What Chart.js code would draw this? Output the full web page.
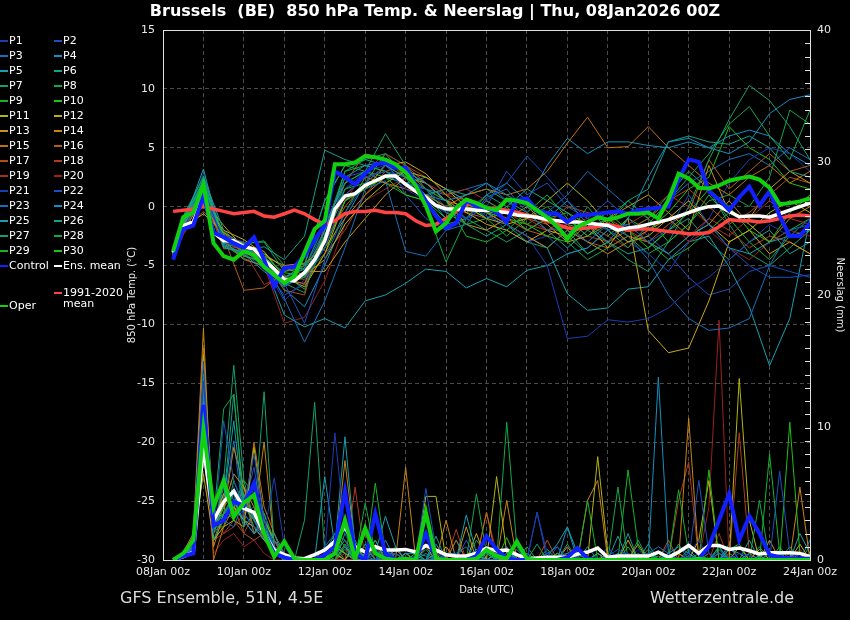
<!DOCTYPE html>
<html>
<head>
<meta charset="utf-8">
<title>Brussels 850 hPa Temp. & Neerslag</title>
<script src="https://cdn.jsdelivr.net/npm/chart.js@4.4.1/dist/chart.umd.min.js"></script>
<style>
  html, body { margin: 0; padding: 0; background: #000; }
  #wrap { width: 850px; height: 620px; position: relative; }
</style>
</head>
<body>
<div id="wrap"><canvas id="chart" width="850" height="620"></canvas></div>
<script>
// forecast hours (from 08Jan2026 00Z)
const hours6 = [6,12,18,24,30,36,42,48,54,60,66,72,78,84,90,96,102,108,114,120,126,132,138,144,150,156,162,168,174,180,186,192,
  198,204,210,216,222,228,234,240,246,252,258,264,270,276,282,288,294,300,306,312,318,324,330,336,342,348,354,360,366,372,378,384];
const hours12 = [6,12,24,36,48,60,72,84,96,108,120,132,144,156,168,180,192,204,216,228,240,252,264,276,288,300,312,324,336,348,360,372,384];
const dayLabels = ['08Jan 00z','10Jan 00z','12Jan 00z','14Jan 00z','16Jan 00z','18Jan 00z','20Jan 00z','22Jan 00z','24Jan 00z'];

// 850 hPa temperature (°C), 6-hourly
const tempOper = [-3.8,-0.9,-0.5,1.9,-3.1,-4.2,-4.5,-3.8,-4.1,-5.1,-5.8,-6.5,-5.9,-3.9,-1.9,-1.2,3.6,3.6,3.75,4.3,4.2,4.0,3.6,2.9,1.8,0.05,-2.1,-1.4,-0.1,0.6,0.3,-0.1,
  -0.3,0.6,0.5,0.3,-0.3,-0.9,-1.7,-2.7,-1.7,-1.3,-0.9,-1.1,-0.9,-0.6,-0.6,-0.5,-1.0,0.6,2.8,2.4,1.6,1.55,1.8,2.2,2.4,2.55,2.3,1.6,0.2,0.3,0.45,0.7];
const tempControl = [-4.5,-1.9,-1.6,0.9,-2.2,-2.6,-3.1,-3.5,-2.6,-4.5,-6.8,-5.2,-5.1,-4.2,-2.8,-1.6,3.0,2.5,1.9,2.8,3.6,3.75,3.3,3.3,1.9,0.5,-0.8,-1.8,-1.4,0.5,0.05,-0.1,
  -0.5,-1.3,0.55,0.7,-0.3,-0.55,-0.6,-1.3,-0.7,-0.7,-0.6,-0.5,-0.4,-0.6,-0.3,-0.2,-0.1,0.0,2.3,4.0,3.8,1.3,0.6,-0.3,0.8,1.7,0.1,1.3,-0.8,-2.5,-2.5,-1.4];
const tempMean = [-3.9,-1.6,-1.3,0.9,-2.2,-2.9,-2.9,-3.4,-3.6,-4.5,-5.3,-6.2,-6.3,-5.6,-4.5,-2.9,-0.2,0.9,1.1,1.8,2.2,2.6,2.6,1.9,1.3,0.8,0.1,-0.2,-0.2,-0.2,-0.3,-0.3,
  -0.4,-0.5,-0.7,-0.8,-0.9,-1.1,-1.2,-1.3,-1.3,-1.4,-1.5,-1.6,-2.0,-1.8,-1.7,-1.5,-1.3,-1.1,-0.8,-0.5,-0.2,0.0,0.05,-0.4,-0.85,-0.8,-0.8,-0.9,-0.6,-0.3,0.0,0.3];
const tempClimate = [-0.4,-0.3,-0.2,0.0,-0.2,-0.4,-0.6,-0.5,-0.4,-0.8,-0.9,-0.6,-0.3,-0.6,-1.1,-1.5,-1.2,-0.6,-0.4,-0.4,-0.3,-0.5,-0.5,-0.6,-1.2,-1.6,-1.5,-1.0,-0.4,0.2,0.1,-0.1,
  -0.2,-0.3,-0.5,-0.7,-0.9,-1.2,-1.5,-1.8,-1.9,-1.8,-1.7,-1.5,-1.7,-2.0,-1.9,-1.9,-2.0,-2.1,-2.2,-2.3,-2.3,-2.2,-1.7,-1.1,-1.2,-1.2,-1.3,-1.2,-1.0,-0.8,-0.7,-0.8];

// precipitation (mm / 6h)
const precOper = [0,0.5,1.5,9.9,4.0,6.0,3.3,4.3,4.9,2.0,0.25,1.4,0.1,0,0,0,0.5,3.0,0.1,2.4,0.5,0.1,0,0.1,0,3.6,0.1,0,0,0,0.1,0.75,
  0.3,0.1,1.4,0.1,0,0,0,0,0,0,0,0,0,0,0,0,0,0,0,0,0.1,0,0,0,0,0,0,0,0,0,0,0];
const precControl = [0,0.3,0.5,11.7,2.6,3.0,4.4,4.1,5.8,2.0,0.5,0.2,0,0,0,0.4,1.0,5.2,0.5,0,3.5,0.5,0,0,0.1,2.0,0.1,0,0,0,0.3,1.8,
  0.8,0.1,0,0,0,0,0,0.2,0.9,0.1,0,0,0,0,0,0,0,0,0,0,0.1,1.0,3.0,5.0,1.5,3.3,2.0,0.4,0.2,0.1,0.1,0.1];
const precMean = [0,0.25,0.6,8.5,3.0,4.4,5.2,3.9,3.6,2.0,0.75,0.4,0.15,0.1,0.4,0.75,1.4,2.5,1.0,0.6,1.0,0.75,0.75,0.8,0.6,1.1,0.75,0.4,0.3,0.3,0.5,0.9,
  0.7,0.75,0.4,0.1,0.15,0.2,0.2,0.2,0.45,0.6,0.9,0.2,0.3,0.3,0.3,0.3,0.6,0.2,0.6,1.1,0.5,1.1,1.1,0.8,0.9,0.7,0.45,0.55,0.55,0.55,0.5,0.25];

// perturbation members P1..P30, temperature (°C) on hours12
const pertTemp = [
  [-4.2,-1.9,1.5,-3.0,-3.6,-5.0,-8.0,-6.2,-3.5,1.0,2.5,3.0,1.5,0.5,-0.5,0.5,-0.8,-1.5,-2.5,-5.0,-11.2,-11.0,-9.6,-9.8,-9.5,-8.6,-7.0,-6.0,-4.5,-3.0,-1.5,-2.5,-1.0],
  [-4.4,-1.0,0.5,-2.5,-3.0,-4.4,-6.5,-9.9,-4.5,-0.5,2.0,3.5,2.0,1.5,0.0,-1.0,0.5,2.0,4.3,2.5,0.5,-1.0,-2.0,-1.5,-3.0,-2.0,1.0,-1.5,-3.5,-5.0,-6.0,-6.0,-5.8],
  [-4.0,-2.0,1.0,-2.8,-3.3,-4.6,-7.8,-11.5,-8.0,-3.5,1.5,2.2,-3.8,-4.2,-2.0,-1.5,0.8,1.5,-0.5,-2.0,-1.8,-3.0,-1.5,-2.5,-4.5,-7.5,-9.5,-10.5,-10.3,-9.5,-5.0,-2.0,-1.5],
  [-3.8,-1.2,2.0,-3.2,-4.0,-5.5,-6.8,-5.8,-2.0,2.5,3.5,3.8,3.0,2.0,0.5,1.0,2.0,1.0,0.0,-1.0,0.5,-1.5,-3.0,-1.0,2.5,5.5,5.8,5.0,4.5,5.5,7.9,9.1,9.5],
  [-4.1,-1.5,3.2,-3.5,-3.8,-4.8,-9.2,-10.2,-9.5,-10.3,-8.0,-7.5,-6.5,-5.3,-5.5,-6.9,-6.1,-6.8,-5.4,-5.0,-4.0,-3.5,-2.0,-1.5,-3.0,-4.0,-2.5,-1.5,-3.5,-4.0,-3.0,-2.5,-2.0],
  [-3.9,-0.8,2.5,-2.0,-3.6,-5.2,-6.0,-5.0,0.5,3.5,4.0,3.5,2.5,1.0,1.5,0.5,-1.0,0.0,1.5,0.5,-0.5,-2.0,-1.0,0.5,1.5,5.5,6.0,5.5,5.3,6.0,5.0,3.0,2.5],
  [-4.3,-1.7,1.8,-3.4,-3.1,-3.0,-5.5,-5.2,-1.5,2.0,3.0,6.2,3.5,1.5,-0.5,-1.5,-2.5,-1.5,-3.0,-3.5,-2.0,-4.0,-3.0,-4.5,-5.5,-3.0,0.0,4.0,7.4,10.3,9.0,6.8,4.0],
  [-4.0,-1.4,1.2,-2.6,-3.7,-4.0,-5.8,-7.0,-3.0,1.5,2.0,4.5,2.5,0.0,-4.7,-1.0,0.5,-0.5,-2.0,-1.0,-2.5,0.0,-2.0,-3.5,-1.5,0.5,2.5,4.5,7.0,8.5,6.0,4.0,8.2],
  [-3.7,-1.1,2.2,-3.0,-4.2,-4.7,-6.4,-6.0,-2.5,3.0,3.5,3.0,2.0,1.5,0.5,-2.5,-3.0,-2.0,-0.5,1.0,-1.0,-2.5,-1.5,0.5,-1.0,-3.0,-1.5,1.0,-1.0,-3.0,-4.5,-2.5,-1.0],
  [-4.1,-0.9,1.9,-2.4,-3.9,-4.3,-5.6,-5.9,-3.5,0.5,1.5,2.5,1.0,0.5,-1.0,0.0,-0.5,-1.0,-1.5,-2.5,-3.0,-1.5,-0.5,-2.0,-3.5,-2.0,-0.5,1.5,0.0,-2.0,-3.0,-0.5,1.0],
  [-4.0,-1.3,0.2,-2.0,-2.8,-4.0,-5.2,-5.8,-4.5,-1.5,0.5,2.0,3.0,2.5,1.5,0.0,-1.0,-1.5,-1.0,0.5,2.0,0.5,-1.5,-3.0,-2.5,-1.0,0.5,-1.5,-3.0,-2.0,-0.5,0.5,-0.5],
  [-3.9,-1.8,-0.6,-2.2,-3.2,-3.8,-6.0,-6.8,-4.0,0.5,1.5,3.5,3.8,2.8,1.0,-0.5,-1.5,-2.0,-3.0,-2.0,-2.5,-1.5,-3.5,-1.0,-10.5,-12.4,-12.0,-8.0,-3.0,-2.0,-4.0,-3.0,-4.0],
  [-4.2,-1.5,0.6,-1.6,-3.5,-4.9,-6.6,-5.5,-5.5,-3.0,-1.0,1.0,2.5,2.0,0.5,-1.5,-2.0,-1.0,0.0,-1.5,-3.0,-2.5,-1.0,0.0,1.0,-0.5,-2.0,3.5,-0.5,-1.0,1.5,3.0,2.0],
  [-4.0,-2.2,0.8,-3.0,-3.0,-4.2,-5.0,-4.8,-3.5,-1.0,1.0,2.5,3.0,2.0,0.5,0.0,-0.5,-1.5,-2.5,-3.5,-2.0,-3.0,-4.0,-3.0,-2.0,-1.0,-2.5,-1.5,0.5,-1.5,-3.0,-1.0,0.0],
  [-4.4,-1.6,0.4,-2.8,-4.5,-5.0,-6.3,-6.5,-2.5,1.0,2.5,2.0,1.5,1.0,0.0,1.0,1.5,1.0,1.5,3.0,5.4,7.6,5.0,5.1,6.8,5.0,3.5,2.0,1.0,2.5,3.5,2.0,3.0],
  [-3.8,-1.2,1.4,-2.6,-7.1,-6.9,-5.5,-5.0,-3.0,0.0,2.0,3.5,3.0,1.5,0.5,-0.5,0.0,-1.0,-2.0,-2.5,-1.5,-3.0,-3.5,-2.5,-3.0,-1.5,-0.5,4.0,1.5,3.0,4.5,3.0,3.5],
  [-4.1,-2.0,-0.4,-2.1,-4.2,-4.6,-7.1,-7.5,-1.5,2.0,4.5,4.0,2.5,1.0,0.0,-0.5,-1.0,-0.5,-1.0,-1.5,0.0,-0.5,-1.0,-2.0,-1.0,0.5,1.5,0.0,-1.5,-0.5,1.0,2.5,2.0],
  [-4.0,-1.7,1.0,-3.6,-3.4,-4.4,-6.0,-6.6,-4.0,-2.0,1.0,3.0,3.5,2.5,1.5,0.5,0.0,-0.5,-1.5,-2.0,-1.0,-2.5,-3.0,-2.0,-3.0,-4.0,-2.5,-1.0,-2.0,-3.5,-2.5,-3.0,-4.0],
  [-4.3,-2.4,0.3,-3.0,-3.8,-6.6,-5.9,-6.2,-3.0,0.5,3.0,4.5,3.5,2.0,1.0,1.5,0.5,-0.5,-1.0,-2.0,-1.5,-1.0,-2.0,-1.5,-0.5,1.0,0.0,-1.5,-2.5,-1.0,0.5,-1.0,-1.5],
  [-4.2,-1.5,0.7,-2.7,-3.5,-5.0,-9.9,-9.4,-6.3,-1.5,0.5,1.5,2.5,2.0,1.0,0.5,-0.5,-1.0,-2.0,-1.0,-2.0,-1.5,-2.5,-3.5,-2.0,-1.0,-3.0,-2.0,-3.5,-4.5,-3.0,-2.0,-2.5],
  [-4.0,-1.6,2.8,-2.5,-3.3,-4.5,-6.8,-5.4,-1.0,1.5,3.0,3.5,2.0,1.0,-0.5,-1.0,-0.5,-2.0,-3.0,-2.5,-4.0,-3.5,-2.0,-3.0,-4.0,-5.5,-3.0,-1.0,2.0,4.0,5.0,4.5,3.0],
  [-4.5,-2.2,0.9,-3.3,-3.9,-5.3,-7.5,-6.6,-3.0,2.5,3.0,4.0,1.0,-1.0,-2.0,-1.0,0.0,3.0,1.0,2.0,0.0,-1.0,0.5,-1.0,-2.5,-4.0,-6.0,-7.5,-7.0,-5.5,-5.0,-5.5,-6.0],
  [-3.9,-1.3,1.6,-2.9,-3.0,-4.2,-6.1,-5.2,-2.0,1.5,2.5,3.0,2.5,1.5,1.0,1.5,2.0,0.5,-1.0,-0.5,1.0,3.0,1.5,0.0,-1.0,0.5,2.0,3.0,4.0,4.5,3.5,5.0,4.0],
  [-4.1,-1.8,2.4,-3.1,-3.6,-4.9,-7.0,-8.5,-5.0,-1.0,2.0,3.5,2.5,1.0,0.5,-0.5,1.0,2.0,0.5,3.5,5.8,4.5,5.5,5.5,5.2,5.0,5.5,5.0,6.0,6.5,6.0,4.5,3.5],
  [-4.0,-1.0,1.7,-2.3,-3.4,-4.5,-6.6,-6.0,-3.5,0.5,2.0,2.5,2.0,1.0,-1.0,0.5,-0.5,-1.5,-2.5,-3.5,-7.4,-8.8,-8.6,-7.0,-6.8,-4.5,-3.0,-2.5,-5.1,-8.5,-13.5,-9.5,-1.0],
  [-3.8,-1.6,1.3,-2.9,-3.8,-3.4,-4.5,-2.5,4.8,4.0,3.5,3.0,2.0,2.5,1.5,1.0,1.5,0.5,-0.5,-2.0,-3.5,-2.0,-3.0,-4.0,-3.5,-2.0,-1.0,-3.0,-4.5,-3.0,-2.0,-4.0,-3.0],
  [-4.2,-1.2,2.0,-3.2,-4.4,-5.1,-6.5,-7.3,-2.0,3.0,4.0,4.5,3.5,2.0,0.5,-1.0,-2.0,-3.0,-2.0,-1.0,-2.5,-4.0,-3.0,-2.0,-1.0,1.0,3.0,1.5,-1.5,-4.0,-5.0,-3.5,-2.0],
  [-4.0,-1.9,1.1,-2.6,-3.2,-2.9,-5.0,-4.9,0.5,3.5,3.0,2.0,1.0,0.5,-1.5,-1.0,1.0,0.0,-1.5,-0.5,-3.0,-4.5,-3.5,-2.5,-4.0,-3.0,-1.5,0.5,1.0,0.0,2.5,8.2,7.0],
  [-3.9,-1.4,1.5,-3.4,-4.1,-4.8,-6.3,-5.7,-4.0,-0.5,2.5,3.0,2.0,1.0,0.0,-1.5,-1.0,-2.5,-1.0,0.0,-1.5,-2.0,-1.0,-2.5,-3.0,-4.5,-3.5,-2.0,-0.5,-1.5,-3.0,-2.0,-1.0],
  [-4.1,-1.1,2.6,-2.8,-3.7,-4.4,-6.0,-5.3,-2.5,2.0,3.0,2.5,2.0,0.5,-0.5,0.0,-1.0,-0.5,-2.0,-1.0,-0.5,-1.5,-2.5,-1.0,-2.0,-0.5,1.5,2.5,6.8,5.0,4.0,2.0,1.5]
];

// perturbation members P1..P30, precipitation (mm / 6h) on hours6
const pertPrec = [
  [0,0.5,1.2,13.5,3.0,4.5,5.0,3.5, 2.5,2.0,6.2,1.0,0,0,0,0.5, 9.6,2.0,0.5,0,0.5,0.3,0,0, 0.2,1.0,0.5,0,0,0.3,0.5,1.0, 0.5,0.3,0,0,3.6,0.5,0,0, 0.2,0,0,0,0,0.5,0,0, 0,0,0,0.5,1.5,0,0,0, 0.5,0.3,0,0,0,0.5,0.3,0],
  [0,0.3,0.8,15.0,2.0,10.5,6.0,4.0, 8.0,3.0,1.0,0.5,0,0,0,0, 0.5,1.0,1.0,0,0,0,0.5,0, 0,5.4,0.8,0,0,0,0,0, 0,0.5,0,0,0,0,0,0, 0,0,0,0.3,0.8,0.3,0,0, 0,0,0,0,6.0,0.5,0,0.3, 0,0,0,0,6.7,0.5,0,0],
  [0,0.2,1.0,11.0,3.5,3.0,2.5,4.5, 3.0,2.0,1.5,0.5,0,0,0,1.0, 2.0,1.5,0,0,0,0.5,0.5,0, 0,0,0,0.5,0.5,1.0,0,0.5, 0.3,0,0.5,0,0,0.5,1.0,0, 0,0,0,0,0,0,0.3,0.5, 1.0,0.5,0,0.3,0,0,0.5,0, 0,0,0,0,0,0.3,0,0],
  [0,0.5,1.5,12.5,4.0,6.0,4.5,3.0, 2.0,2.5,1.0,0,0,0,0,0, 1.0,2.5,0.5,0.3,0,0.3,0,0.5, 0.5,0.3,0,0,0,0,0.3,0, 0,0.8,0,0,0,0,0.3,0.5, 0,0,0,0,0.3,0,0,0, 13.8,0.5,0,0.5,0,0,0.5,0, 0,0,0,0,0,0,0,0.5],
  [0,0.4,1.0,9.5,2.5,4.5,10.5,3.5, 2.5,1.5,2.0,0.5,0,0,0,6.3, 1.0,9.3,1.0,0,0.5,3.3,1.0,0, 0,0.5,0,0,0,3.4,0.5,0, 0.5,0,0,0.5,0,0.3,1.2,2.5, 0.5,0,0,0,0.5,0,0.5,0, 0,0.5,1.0,0.5,0,0,0,0.8, 0.5,0,0.3,0,0,0,0,0],
  [0,0.3,0.6,10.0,1.5,3.5,5.0,2.5, 3.5,2.0,0.5,0,0,0,0,0.5, 2.0,1.0,0,0.5,1.5,0,0,0, 0.3,0,1.8,0,0,0,0,0.5, 0,1.0,0,0,0,0.5,0,1.2, 0,0,0.5,0,0,2.0,0,0, 0,0,0,0,0.5,0,1.0,0, 0,1.5,0,0.5,0,0,0,0],
  [0,0.5,1.0,14.0,2.0,6.0,14.7,6.0, 3.0,12.7,1.0,0,0,3.0,11.9,0.5, 0,2.0,0.5,1.0,0,0,0,0, 0,0,0,0,0,0,0,0, 0,0.5,0,0,0,0,0,0, 0,0,0,0,0,0,0,0, 0.3,0,0,0,0,0,0,0, 0,0,0,0,0,1.0,0,0],
  [0,0.3,0.8,12.0,3.0,11.4,12.5,4.0, 3.5,2.5,0.5,0,0,0,0,0.5, 1.5,0.5,0,4.3,0.5,0,0,0.5, 0,0,0,0,0,0,5.0,0.5, 0,10.4,1.0,0,0,0,0.5,0, 0,0,0,0,5.5,0,0,0, 0,0,0,0,0,0,0,0, 0,0,4.5,0,0,0,0,0],
  [0,0.5,1.5,8.0,2.5,3.5,4.0,6.0, 5.0,3.5,1.5,0.5,0,0,0,0, 0.5,1.5,0.5,0,5.8,0.5,0,0, 0.5,0,0,0,0,0,0,0, 0,0,0,0,0,0,0.3,0, 0,4.5,0,0,0,6.8,1.0,0, 0.5,0,5.3,0.5,0,0,0,0, 0,0,0,8.0,0.5,0,0,0],
  [0,0.3,1.0,10.5,2.0,4.0,3.0,4.5, 3.0,2.5,0.5,0,0,0,0,0, 0,1.0,0,0,1.5,0,0,0, 0,0,0,0,0,0,0,0, 0,1.7,0,0,0,0,0.5,0, 0,0,0,0,0,0,0,0, 0,0,0,0,0,6.8,0,0, 0,0,0,0,0,10.4,0.5,0],
  [0,0.5,1.5,6.5,1.5,2.5,3.0,2.5, 8.5,3.0,1.5,0.5,0,0,0,0.5, 1.0,0.5,0,0,0,0,0.5,0, 0,4.8,4.8,0,0,0,0,0, 6.3,0.5,0,0,0,0,0,0, 0,0,7.8,0.5,0,0,0,0, 0,0,0,0,0,0,0,0, 13.7,3.0,0,0,0,0,0.5,0],
  [0,0.3,1.0,15.5,3.0,5.0,4.0,3.0, 2.5,1.5,1.0,0,0,0,0,1.0, 0.5,0,1.2,0,0,0,0,0.5, 0,0,0,1.0,0,0,2.0,0, 0,0,0,0,0,0,0.5,0, 0,0,0.5,0,0,1.5,0,0, 0,0,0,0,1.5,6.0,0,0, 0,0,0.8,0,0,0,1.2,0],
  [0,0.5,1.8,12.0,2.5,4.0,6.5,5.5, 4.0,2.0,0.5,0.5,0,0,0,0, 1.5,2.5,0.5,0,0,0,0,0, 0,1.0,0,0,0,2.5,0,0, 0.5,0,0,0,0,0,0,1.0, 0,0,0,0.5,0,0,1.2,0, 0,0,0.5,0,0,0,0,0, 1.0,0,0,1.5,0,0,0,0],
  [0,0.6,2.0,17.5,1.0,3.5,8.5,5.5, 3.0,8.9,1.0,0.5,0,0,0,0, 0.5,7.5,1.0,0,0,0,0,7.0, 0,0,0,3.0,0,0,0,0, 0,4.5,0,0,0,0,0,0, 0,4.5,6.0,0,0,0,0,0, 0,0,0,10.7,0,0,0,0, 0,0,0,0,0,0,5.5,0],
  [0,0.4,1.2,16.0,0,2.5,4.0,3.0, 8.9,4.0,2.0,0,0,0,0,0.5, 1.5,0.5,0,0,0,0,0,0, 0,0,0,0,0,0,0,3.6, 0,0,0,0,0,0,0,0, 0,0,0,0,0,0,0,0.5, 0,0,0,0,0,0,0,0, 0,0,0,0,0,0,0,0],
  [0,0.3,0.8,13.0,2.5,5.0,3.5,5.5, 2.0,3.0,1.5,0,0,0,0,0, 0.5,1.0,0,0,0,0,0.8,0, 0,0,0.5,0,1.5,0,0,0, 0,0,0,0,0,0,0,0.5, 1.0,0,0,0,0,0,0,0, 0,1.5,0,0,0,0.5,0,0, 0,0,0,0,0,0.5,0,0],
  [0,0.5,1.0,11.5,2.0,3.0,4.0,2.0, 1.5,2.0,1.0,0,0,0,0,0, 0,0.5,0,2.0,0,0,0,0.5, 0,0,0,0,0,0,0.5,0, 0,0.5,0,0,0,1.5,0,0, 0,0,0,0,0,0.5,0,0, 0,0,0.5,0,0,0,0,0, 0,0,0,0,0,0,0,0.5],
  [0,0.2,0.5,9.0,3.5,2.0,3.0,2.0, 3.5,1.5,0.5,0.5,0,0,0,0, 0,0,5.5,0,0,0,0,0, 0,0,0,0,2.3,0,0,0, 0,0,0,0,0,0,0,0, 0,0,0,0,0,0,0,0, 0,0,4.5,7.4,0,0,0,0, 9.6,0.5,0,0,0,0,0,0],
  [0,0.3,1.0,10.0,1.5,2.0,2.5,3.5, 2.5,2.0,0.5,0,0,0,0,0, 0,0,0,0,1.2,0,0.5,0, 0,0,0,0,0,0,0,3.6, 0.5,0,0,0,0,0,0,0, 0,0,0,0.5,0,0,0,0, 0,0,0,0,0,0,2.0,0, 0,0,0,0,0,0,0.8,0],
  [0,0.2,0.6,8.5,0.5,1.5,2.0,1.0, 1.5,0.5,0,0,0,0,0,0, 0,0,0,0,0,0,0,0, 0,0,0,0,0.3,0,0,0, 0,0,0,0,0,0,0,0, 0,0,0,0,0,0,0,0, 0,0,0,0,0,4.0,18.1,0, 0,0,0,0,0,0,0,0],
  [0,0.4,1.2,12.5,3.5,3.0,4.0,3.5, 4.0,3.0,1.5,0,0,0,0,0, 0.5,0,0,0,0,1.0,0,0, 0,0,0,0.5,0,0,0,0, 0,0,0,0,0,0,1.0,0, 0,0,0,0,0,0,0.8,0, 0,1.2,0,0,0,0,0,0, 0,0,0,0,0.5,0,0,0],
  [0,0.3,0.9,14.0,2.0,6.5,5.5,4.0, 7.0,2.5,1.0,0,0,0,0,0.5, 0,0,0.8,0,0,0,0,0, 0,0,0,0,0,1.5,0,0, 0,0,0,0,3.6,0,0,0, 0,0,0,1.0,0,0,0,0, 0,0,0,0,0,0,0,1.0, 0,0,0,0,0,0,0,0],
  [0,0.5,1.0,11.0,2.5,4.0,9.0,3.0, 2.5,2.0,0.5,0,0,0,0,0, 0,0,0,0,0.8,0,0,0, 0,0,0.5,0,0,0,0,0, 0,0,0,0,0,0,0,0, 0,0,0,0,0,0,0,0, 0.5,0,0,0,0,0,1.0,0, 0,0,0,0,0,0,0,0],
  [0,0.5,1.5,13.0,2.5,5.5,4.0,3.0, 2.0,3.5,1.0,0.5,0,0,0,0, 0,0.8,0,0,0,1.5,0,0, 0,0,1.2,0,0,0,0.5,0, 0,0,0,0,0,0,0,2.5, 0,1.0,0,0,0,0.5,0,0, 0,0,0,0.8,0,0,0,1.2, 0,0.5,0,0,0.5,0,0,1.5],
  [0,0.3,0.8,9.0,3.0,3.5,4.5,5.0, 3.0,1.5,0.5,0,0,0,0,0, 0.5,0,0,1.2,0,0,0,0.5, 0,0,0,0,1.5,0,0,0, 0,0,0.8,0,0,0,0,0, 0,0,0,0,1.8,0,0,0, 0,0.5,0,0,0,0,0.8,0, 0,0,0,0,0,0,2.0,0.5],
  [0,0.4,1.0,10.5,2.0,4.5,12.5,4.5, 3.0,2.5,1.0,0,0,0,0,0.5, 1.0,0.5,0,0,1.0,0,0,0, 0,0,0,0,0,0,0.8,0, 0.5,0,0,0,0,0,0,0, 0,0,0,0,0,0,0,1.2, 0,0,0,0,0,0,0.5,0, 0,0,1.0,0,0,0,0,0],
  [0,0.5,1.2,11.5,3.0,4.0,5.0,4.0, 3.0,2.0,1.0,0,0,0,0,0, 0,0,1.5,0,0,0,1.0,0, 0,0.8,0,0,0,0,0,0, 0,0,0,0,1.2,0,0,0, 0.5,0,0,0,0,0,1.5,0, 0,0,0,0,0,0,0,0.5, 0,0,0,0,0,0,0,0],
  [0,0.3,0.7,12.0,1.5,3.0,3.5,5.0, 2.0,3.0,0.5,0,0,0,0,0, 0,0,0,0,0,0.8,0,0, 0,0,0,0,0,0,1.5,0.5, 0,0,0,1.0,0,0,0,0, 0,0,0,0,0,0,0,0.8, 0,0,1.2,0,0,0,0,0, 0,0.5,0,0,1.0,0,0,0],
  [0,0.4,1.0,10.0,2.5,2.5,6.0,4.0, 3.5,2.5,0.5,0,0,0,0,0, 1.0,0,0,0,0,0,0,0, 0,0,0,0.5,0,0,0,0, 0,0,0,0,0,0.8,0,0, 0,0,0,0,0,1.0,0,0, 0,0,0,0,0,0,0,0, 0,0,0,0,0,0,0,1.0],
  [0,0.5,1.5,11.0,3.0,3.5,4.0,4.5, 2.5,2.0,1.0,0,0,0,0,0, 0,1.2,0,0,0,0,0,0, 0,0,0,0,0,0,0,1.0, 0,0,0,0,0,0,0,0, 0,0,0.5,0,0,0,0,0, 0,0,0,0,0,0,0,0.8, 1.2,0,0,0,0,0,0,0]
];

// P1..P20 run through the spectrum, P21..P30 reuse the first ten colours
const pertColors = ['#1c3cb4','#1a50c0','#1470bc','#1490c0','#14a0b0','#14a08c','#14a06c','#14a848','#14b42c','#20c014',
  '#b4b414','#c8a814','#c89614','#c88414','#c07014','#b45e14','#b44c14','#b03c1c','#a82c1c','#9c2020'];

const fontFamily = '"DejaVu Sans", Verdana, sans-serif';
const textColor = '#e8e8e8';
const gridColor = '#4a4a4a';
const colorControl = '#1020ff';
const colorOper = '#10d010';
const colorMean = '#ffffff';
const colorClimate = '#ff4444';

function memberColor(i) {
  return pertColors[i % 20];
}

function toPoints(xs, ys) {
  return ys.map(function (y, i) { return { x: xs[i], y: y }; });
}

function line(label, xs, ys, color, width, axis) {
  return {
    label: label,
    data: toPoints(xs, ys),
    borderColor: color,
    backgroundColor: color,
    borderWidth: width,
    pointRadius: 0,
    tension: 0,
    fill: false,
    yAxisID: axis
  };
}

function buildDatasets() {
  // first in the list is drawn on top
  const sets = [
    line('Oper', hours6, tempOper, colorOper, 4, 'y'),
    line('Control', hours6, tempControl, colorControl, 4, 'y'),
    line('Ens. mean', hours6, tempMean, colorMean, 3.5, 'y'),
    line('1991-2020 mean', hours6, tempClimate, colorClimate, 3.5, 'y'),
    line('Oper prec', hours6, precOper, colorOper, 4, 'y2'),
    line('Control prec', hours6, precControl, colorControl, 4, 'y2'),
    line('Ens. mean prec', hours6, precMean, colorMean, 3.5, 'y2')
  ];
  pertTemp.forEach(function (vals, i) {
    sets.push(line('P' + (i + 1), hours12, vals, memberColor(i), 1, 'y'));
  });
  pertPrec.forEach(function (vals, i) {
    sets.push(line('P' + (i + 1) + ' prec', hours6, vals, memberColor(i), 1, 'y2'));
  });
  return sets;
}

// title, footer, frame, legend, right minor ticks
const decorations = {
  id: 'decorations',
  beforeDraw: function (chart) {
    const ctx = chart.ctx;
    ctx.save();
    ctx.fillStyle = '#000';
    ctx.fillRect(0, 0, chart.width, chart.height);
    ctx.restore();
  },
  afterDraw: function (chart) {
    const ctx = chart.ctx;
    const area = chart.chartArea;
    const y2 = chart.scales.y2;
    ctx.save();

    ctx.strokeStyle = '#e0e0e0';
    ctx.lineWidth = 1;
    ctx.strokeRect(Math.round(area.left) + 0.5, Math.round(area.top) + 0.5,
      Math.round(area.right - area.left), Math.round(area.bottom - area.top));

    for (let p = 1; p < 40; p++) {
      const yy = Math.round(y2.getPixelForValue(p)) + 0.5;
      ctx.beginPath();
      ctx.moveTo(area.right - 5, yy);
      ctx.lineTo(area.right, yy);
      ctx.stroke();
    }

    ctx.fillStyle = '#ffffff';
    ctx.textBaseline = 'middle';
    ctx.textAlign = 'center';
    ctx.font = 'bold 16px ' + fontFamily;
    ctx.fillText('Brussels  (BE)  850 hPa Temp. & Neerslag | Thu, 08Jan2026 00Z', 435, 12);

    ctx.fillStyle = '#dcdcdc';
    ctx.font = '16px ' + fontFamily;
    ctx.textAlign = 'left';
    ctx.fillText('GFS Ensemble, 51N, 4.5E', 120, 599);
    ctx.textAlign = 'right';
    ctx.fillText('Wetterzentrale.de', 794, 599);

    ctx.font = '11px ' + fontFamily;
    ctx.textAlign = 'left';
    ctx.lineWidth = 2;
    function entry(x, y, color, text) {
      ctx.strokeStyle = color;
      ctx.beginPath();
      ctx.moveTo(x, y);
      ctx.lineTo(x + 8, y);
      ctx.stroke();
      ctx.fillStyle = '#ffffff';
      ctx.fillText(text, x + 9, y);
    }
    for (let i = 0; i < 30; i++) {
      const col = i % 2;
      const row = Math.floor(i / 2);
      entry(col ? 54 : 0, 41 + row * 15, memberColor(i), 'P' + (i + 1));
    }
    entry(0, 266, colorControl, 'Control');
    entry(54, 266, colorMean, 'Ens. mean');
    entry(0, 306, colorOper, 'Oper');
    entry(54, 293, colorClimate, '1991-2020');
    ctx.fillStyle = '#ffffff';
    ctx.fillText('mean', 63, 304);
    ctx.restore();
  }
};

function tickFont() {
  return { size: 11, family: fontFamily };
}

function init() {
  const ctx = document.getElementById('chart');
  new Chart(ctx, {
    type: 'line',
    data: { datasets: buildDatasets() },
    plugins: [decorations],
    options: {
      responsive: false,
      animation: false,
      events: [],
      layout: { padding: { left: 122, right: 0, top: 30, bottom: 20 } },
      plugins: { legend: { display: false }, tooltip: { enabled: false } },
      scales: {
        x: {
          type: 'linear',
          min: 0,
          max: 384,
          afterFit: function (s) { s.height = 40; },
          ticks: {
            stepSize: 24,
            autoSkip: false,
            maxRotation: 0,
            minRotation: 0,
            padding: 6,
            color: textColor,
            font: tickFont(),
            callback: function (v) { return v % 48 === 0 ? dayLabels[v / 48] : ''; }
          },
          grid: { color: gridColor, drawTicks: false },
          border: { display: false, dash: [4, 3] },
          title: { display: true, text: 'Date (UTC)', color: textColor, font: { size: 10, family: fontFamily }, padding: { top: 2, bottom: 4 } }
        },
        y: {
          position: 'left',
          min: -30,
          max: 15,
          afterFit: function (s) { s.width = 41; },
          ticks: { stepSize: 5, padding: 8, color: textColor, font: tickFont() },
          grid: { color: gridColor, drawTicks: false },
          border: { display: false, dash: [4, 3] },
          title: { display: true, text: '850 hPa Temp. (°C)', color: textColor, font: { size: 10, family: fontFamily }, padding: { top: 4, bottom: 4 } }
        },
        y2: {
          position: 'right',
          min: 0,
          max: 40,
          afterFit: function (s) { s.width = 40; },
          ticks: { stepSize: 10, padding: 7, color: textColor, font: tickFont() },
          grid: { display: false, drawTicks: false },
          border: { display: false },
          title: { display: true, text: 'Neerslag (mm)', color: textColor, font: { size: 10, family: fontFamily }, padding: { top: 4, bottom: 4 } }
        }
      }
    }
  });
}

init();
</script>
</body>
</html>
